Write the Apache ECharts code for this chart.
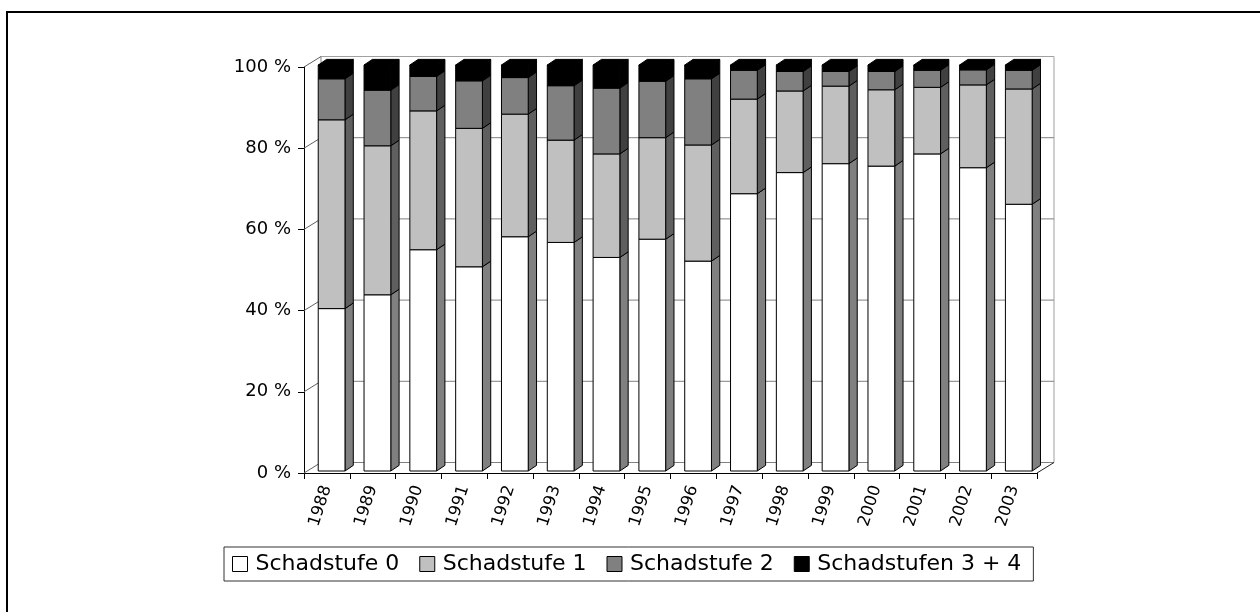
<!DOCTYPE html>
<html>
<head>
<meta charset="utf-8">
<script src="https://cdn.jsdelivr.net/npm/echarts@6/dist/echarts.min.js"></script>
<style>
  html, body { margin: 0; padding: 0; background: #fff; }
  #chart { width: 1260px; height: 612px; }
</style>
</head>
<body>
<div id="chart"></div>
<script>
// Years on the category axis
const years = ['1988','1989','1990','1991','1992','1993','1994','1995',
               '1996','1997','1998','1999','2000','2001','2002','2003'];

// Share of trees per damage class (%)
const schadstufe0 = [40.0, 43.4, 54.5, 50.3, 57.7, 56.3, 52.6, 57.1, 51.7, 68.3, 73.5, 75.7, 75.1, 78.1, 74.7, 65.7];
const schadstufe1 = [46.5, 36.7, 34.2, 34.1, 30.2, 25.2, 25.5, 25.0, 28.6, 23.3, 20.1, 19.1, 18.8, 16.4, 20.4, 28.4];
const schadstufe2 = [10.1, 13.7,  8.5, 11.7,  9.0, 13.4, 16.2, 13.9, 16.3,  7.1,  4.8,  3.6,  4.5,  4.2,  3.7,  4.6];
const schadstufe34 = [3.4,  6.2,  2.8,  3.9,  3.1,  5.1,  5.7,  4.0,  3.4,  1.3,  1.6,  1.6,  1.6,  1.3,  1.2,  1.3];

const seriesNames = ['Schadstufe 0', 'Schadstufe 1', 'Schadstufe 2', 'Schadstufen 3 + 4'];
const yTicks = [0, 20, 40, 60, 80, 100];

// Face colours: front, right side
const frontColors = ['#ffffff', '#c0c0c0', '#808080', '#000000'];
const sideColors  = ['#808080', '#5f5f5f', '#404040', '#000000'];

// Pseudo-3D geometry (pixels)
const WALL_DX = 17, WALL_DY = -10.5;   // depth of the floor / back wall
const FACE_DX = 4.7, FACE_DY = -2;     // front face of the columns
const SIDE_DX = 8.3, SIDE_DY = -5.6;   // column depth
const BAR_FRAC = 0.584;                // column width as share of a category

const layers = [schadstufe0, schadstufe1, schadstufe2, schadstufe34];

// [categoryIndex, base, top] per layer, stacked
function stackedData(k) {
  return years.map((_, i) => {
    let base = 0;
    for (let j = 0; j < k; j++) base += layers[j][i];
    return [i, base, base + layers[k][i]];
  });
}

function renderColumn(k) {
  const isTop = k === layers.length - 1;
  return function (params, api) {
    const i = api.value(0), b = api.value(1), t = api.value(2);
    const pB = api.coord([i, b]);
    const pT = api.coord([i, t]);
    const bw = api.size([1, 0])[0] * BAR_FRAC;
    const x0 = pB[0] - bw / 2 + FACE_DX;
    const x1 = x0 + bw;
    const yb = pB[1] + FACE_DY;
    const yt = pT[1] + FACE_DY;
    const stroke = { stroke: '#000', lineWidth: 1 };
    const children = [
      {
        type: 'polygon',
        shape: { points: [[x1, yt], [x1 + SIDE_DX, yt + SIDE_DY], [x1 + SIDE_DX, yb + SIDE_DY], [x1, yb]] },
        style: Object.assign({ fill: sideColors[k] }, stroke)
      },
      {
        type: 'rect',
        shape: { x: x0, y: yt, width: bw, height: yb - yt },
        style: Object.assign({ fill: frontColors[k] }, stroke)
      }
    ];
    if (isTop) {
      children.push({
        type: 'polygon',
        shape: { points: [[x0, yt], [x0 + SIDE_DX, yt + SIDE_DY], [x1 + SIDE_DX, yt + SIDE_DY], [x1, yt]] },
        style: Object.assign({ fill: frontColors[k] }, stroke)
      });
    }
    return { type: 'group', children: children };
  };
}

// Floor, side wall and back wall with their grid lines
function renderWalls(params, api) {
  const cs = params.coordSys;
  const L = cs.x, R = cs.x + cs.width, T = cs.y, B = cs.y + cs.height;
  const v = api.value(1);
  const y = api.coord([0, v])[1];
  const lineCol = v === yTicks[yTicks.length - 1] ? '#a0a0a0' : '#808080';
  const children = [
    { type: 'line', shape: { x1: L, y1: y, x2: L + WALL_DX, y2: y + WALL_DY }, style: { stroke: '#606060', lineWidth: 1 } },
    { type: 'line', shape: { x1: L + WALL_DX, y1: y + WALL_DY, x2: R + WALL_DX, y2: y + WALL_DY }, style: { stroke: lineCol, lineWidth: 1 } }
  ];
  if (params.dataIndex === 0) {
    children.push(
      { type: 'line', shape: { x1: R + WALL_DX, y1: T + WALL_DY, x2: R + WALL_DX, y2: B + WALL_DY }, style: { stroke: '#a0a0a0', lineWidth: 1 } },
      { type: 'line', shape: { x1: L + WALL_DX, y1: T + WALL_DY, x2: L + WALL_DX, y2: B + WALL_DY }, style: { stroke: '#808080', lineWidth: 1 } },
      { type: 'line', shape: { x1: R, y1: B, x2: R + WALL_DX, y2: B + WALL_DY }, style: { stroke: '#202020', lineWidth: 1 } }
    );
  }
  return { type: 'group', children: children };
}

const FONT = '"DejaVu Sans", Arial, sans-serif';

const chart = echarts.init(document.getElementById('chart'), null, { renderer: 'canvas' });

const series = [{
  type: 'custom',
  name: 'walls',
  z: 1,
  silent: true,
  renderItem: renderWalls,
  encode: { x: 0, y: 1 },
  data: yTicks.map(v => [0, v])
}];

layers.forEach((_, k) => {
  series.push({
    type: 'custom',
    name: seriesNames[k],
    z: 2,
    itemStyle: { color: frontColors[k] },
    renderItem: renderColumn(k),
    encode: { x: 0, y: [1, 2] },
    data: stackedData(k)
  });
});

chart.setOption({
  animation: false,
  backgroundColor: '#ffffff',
  graphic: [{
    type: 'rect',
    shape: { x: 7, y: 12, width: 1300, height: 700 },
    style: { fill: 'none', stroke: '#000', lineWidth: 2 },
    silent: true
  }],
  grid: { left: 304, top: 67, width: 733, height: 406 },
  xAxis: {
    type: 'category',
    data: years,
    boundaryGap: true,
    axisLine: { lineStyle: { color: '#000', width: 1 } },
    axisTick: { show: true, length: 6, lineStyle: { color: '#000' } },
    axisLabel: { rotate: 72, margin: 13, color: '#000', fontFamily: FONT, fontSize: 16.5, interval: 0 },
    splitLine: { show: false }
  },
  yAxis: {
    type: 'value',
    min: 0,
    max: 100,
    interval: 20,
    axisLine: { show: true, lineStyle: { color: '#000', width: 1 } },
    axisTick: { show: true, length: 6, lineStyle: { color: '#000' } },
    axisLabel: { formatter: '{value} %', margin: 13, color: '#000', fontFamily: FONT, fontSize: 18 },
    splitLine: { show: false }
  },
  legend: {
    left: 224,
    top: 547,
    orient: 'horizontal',
    icon: 'rect',
    itemWidth: 15,
    itemHeight: 15,
    itemGap: 20,
    padding: [6, 12, 6, 8],
    borderColor: '#333',
    borderWidth: 1,
    selectedMode: false,
    textStyle: { color: '#000', fontFamily: FONT, fontSize: 22, lineHeight: 22, padding: [0, 0, 0, 3] },
    data: seriesNames.map((n, k) => ({
      name: n,
      itemStyle: { color: frontColors[k], borderColor: '#000', borderWidth: 1 }
    }))
  },
  series: series
});
</script>
</body>
</html>
